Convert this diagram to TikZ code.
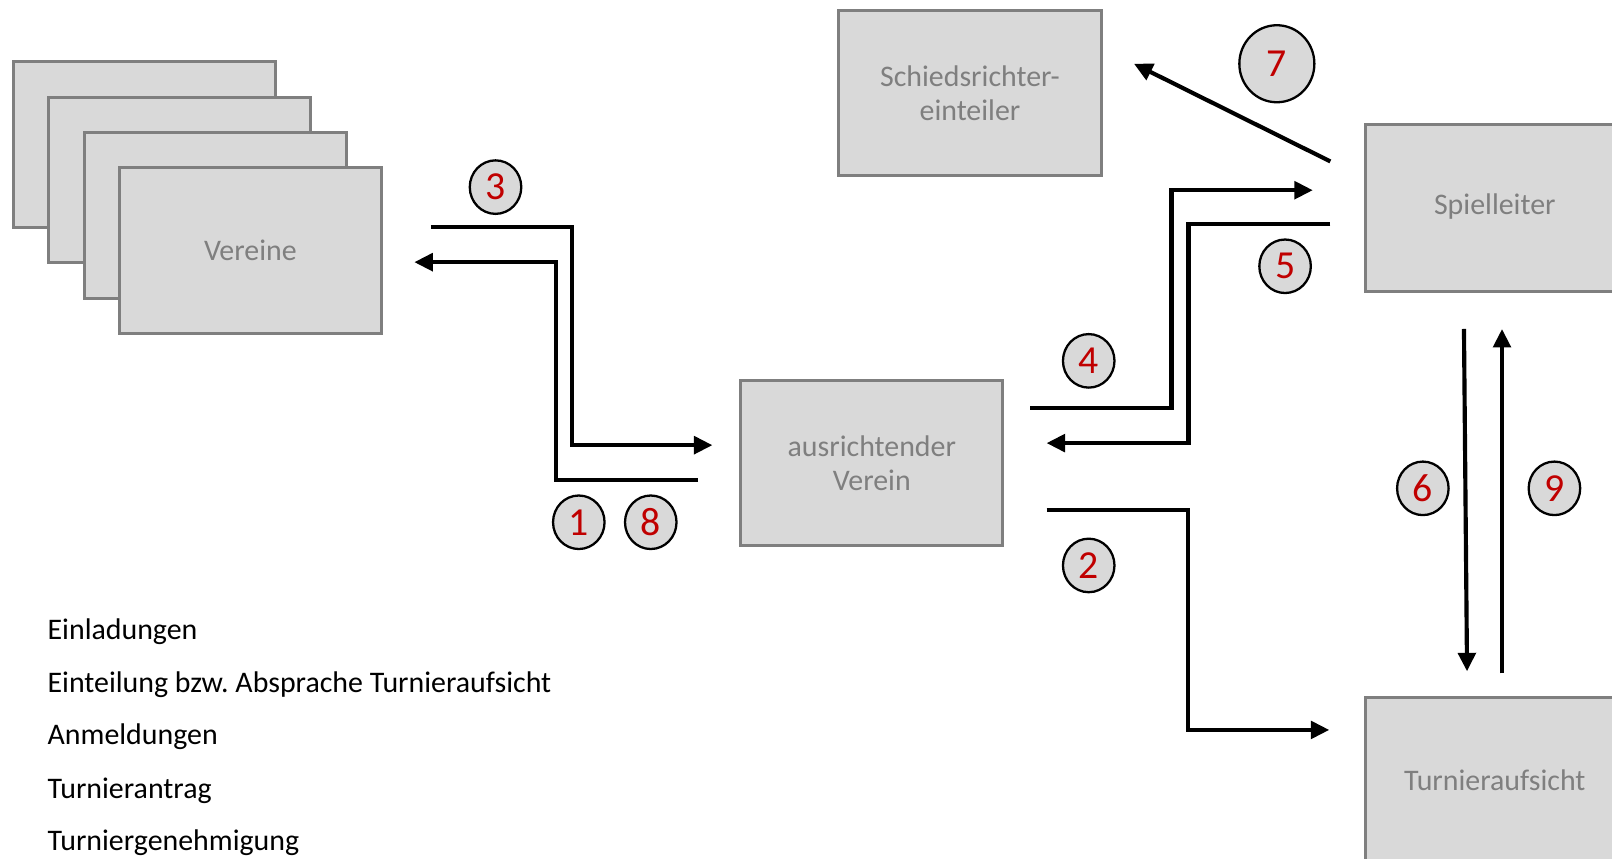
\documentclass[tikz,border=0pt]{standalone}
\usepackage{fontspec}
\setmainfont{Carlito}
\usetikzlibrary{arrows.meta,shapes,calc}
\definecolor{boxgray}{HTML}{D9D9D9}
\definecolor{boxline}{HTML}{7F7F7F}
\definecolor{numred}{HTML}{C00000}
\newcommand{\boxfont}{\fontsize{17}{19.3}\selectfont}
\newcommand{\numfont}{\fontsize{22.6}{24}\selectfont}
\tikzstyle{box}=[rectangle,fill=boxgray,draw=boxline,line width=1.75pt,minimum width=5.24cm,minimum height=3.31cm,inner sep=0pt]
\tikzstyle{boxtext}=[font=\boxfont,text=boxline,align=center]
\tikzstyle{num}=[ellipse,fill=boxgray,draw,line width=1.3pt,minimum width=1.03cm,minimum height=1.07cm,inner sep=0pt,text=numred,font=\numfont]
\tikzstyle{flow}=[draw,line width=2.36pt,-{Triangle[length=0.37cm,width=0.35cm]}]
\tikzstyle{legend}=[anchor=west,inner sep=0pt,font=\boxfont]
\frenchspacing

\begin{document}
\begin{tikzpicture}[x=0.02056cm,y=-0.02056cm]
\useasboundingbox (0,0) rectangle (1568,835);
\clip (0,0) rectangle (1568,835);

% Vereine (stack of boxes)
\foreach \pos/\name in {{(140.5,140.5)/v1},{(174.5,175)/v2},{(209.5,209.5)/v3}}
    \node[box] (\name) at \pos {};
\node[box,boxtext] (vereine) at (243.5,243.5) {Vereine};

\node[box,boxtext] (schiri) at (943.5,90.5) {Schiedsrichter-\\einteiler};
\node[box,boxtext] (ausrichter) at (848,450.5) {ausrichtender\\Verein};

% boxes cut by the right edge
\node[box,anchor=north west,minimum width=8cm,minimum height=3.33cm] (spiel) at (1327,120) {};
\node[boxtext] (spieltext) at (1454,201) {Spielleiter};
\node[box,anchor=north west,minimum width=8cm,minimum height=5cm] (aufsicht) at (1327,677) {};
\node[boxtext] (aufsichttext) at (1454,759) {Turnieraufsicht};

% numbers
\foreach \pos/\name in {{(482,182)/3},{(563,508)/1},{(633,508)/8},{(1059,351)/4},{(1250,259)/5},{(1059,550)/2},{(1384,475)/6},{(1512,475)/9}}
    \node[num] (n\name) at \pos {\name};
\node[num,minimum width=1.5cm,minimum height=1.54cm] (n7) at (1242,62) {7};

% arrow ends
\foreach \pos/\name in {{(419,221)/s3},{(693,433)/e3},{(679,467)/s1},{(403,255)/e1},{(1002,397)/s4},{(1277,185)/e4},{(1294,218)/s5},{(1018,431)/e5},{(1018,496)/s2},{(1293,710)/e2},{(1294,157)/s7},{(1103,62)/e7},{(1424,320)/s6},{(1427,653)/e6},{(1461,655)/s9},{(1461,320)/e9}}
    \path \pos coordinate (\name);

% stepped arrows
\foreach \source/\dest in {s3/e3, s1/e1, s4/e4, s5/e5, s2/e2}
    \path[flow] (\source) -| ($(\source)!.5!(\dest)$) |- (\dest);

% straight arrows
\foreach \source/\dest in {s7/e7, s6/e6, s9/e9}
    \path[flow] (\source) -- (\dest);

% legend
\foreach \y/\text in {614/Einladungen, 666/{Einteilung bzw. Absprache Turnieraufsicht}, 717/Anmeldungen, 769/Turnierantrag, 820/Turniergenehmigung}
    \node[legend] (leg\y) at (46,\y) {\text};

\end{tikzpicture}
\end{document}
